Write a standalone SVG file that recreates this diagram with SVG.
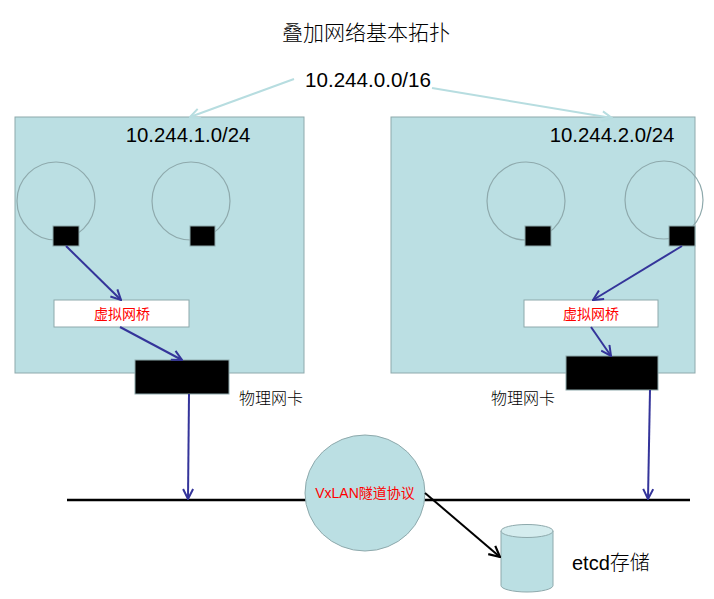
<svg xmlns="http://www.w3.org/2000/svg" width="714" height="599" viewBox="0 0 714 599">
<defs>
<style>
.host{fill:#bbdfe3;stroke:#8ea9ac;stroke-width:1}
.pod{fill:none;stroke:#8ea9ac;stroke-width:1.2}
.port{fill:#000;stroke:#8ea9ac;stroke-width:1}
.bridge{fill:#fff;stroke:#8ea9ac;stroke-width:1}
.lbl{font-family:"Liberation Sans","Noto Sans CJK SC",sans-serif;fill:#000}
.red{font-family:"Liberation Sans","Noto Sans CJK SC",sans-serif;fill:#ff0000;font-size:14px;text-anchor:middle}
.cjk{font-family:"Noto Sans CJK SC",sans-serif;fill:#000;font-weight:300}
.blue{stroke:#34349a;stroke-width:2;fill:none;marker-end:url(#ab)}
.pale{stroke:#b7dde0;stroke-width:2;fill:none;marker-end:url(#ap)}
</style>
<marker id="ab" viewBox="0 0 12 12" refX="11" refY="6" markerWidth="12" markerHeight="12" markerUnits="userSpaceOnUse" orient="auto">
<path d="M1,1 L11,6 L1,11" fill="none" stroke="#34349a" stroke-width="2"/>
</marker>
<marker id="ap" viewBox="0 0 12 12" refX="11" refY="6" markerWidth="12" markerHeight="12" markerUnits="userSpaceOnUse" orient="auto">
<path d="M1,1 L11,6 L1,11" fill="none" stroke="#b7dde0" stroke-width="2"/>
</marker>
<marker id="ak" viewBox="0 0 12 12" refX="11" refY="6" markerWidth="13" markerHeight="13" markerUnits="userSpaceOnUse" orient="auto">
<path d="M1,1 L11,6 L1,11" fill="none" stroke="#000" stroke-width="2"/>
</marker>
</defs>
<rect width="714" height="599" fill="#fff"/>
<text id="title" class="cjk" x="366" y="40" font-size="21" text-anchor="middle">叠加网络基本拓扑</text>
<g id="net">
<text class="lbl" x="368" y="87" font-size="20.6" text-anchor="middle">10.244.0.0/16</text>
</g>
<g id="host1">
<rect class="host" x="15" y="117" width="289" height="256"/>
<text class="lbl" x="188" y="142" font-size="20.4" text-anchor="middle">10.244.1.0/24</text>
<circle class="pod" cx="56" cy="201" r="39"/>
<circle class="pod" cx="191" cy="201" r="39"/>
<rect class="port" x="53" y="226" width="26" height="20"/>
<rect class="port" x="190" y="226" width="25" height="20"/>
</g>
<g id="bridge1">
<rect class="bridge" x="54" y="300" width="135" height="27"/>
<text class="red" x="122" y="319">虚拟网桥</text>
</g>
<g id="nic1">
<rect class="port" x="135" y="360" width="94" height="34"/>
<text class="cjk" x="271" y="404" font-size="16" text-anchor="middle">物理网卡</text>
</g>
<g id="host2">
<rect class="host" x="391" y="117" width="304" height="256"/>
<text class="lbl" x="612" y="142" font-size="20.4" text-anchor="middle">10.244.2.0/24</text>
<circle class="pod" cx="526" cy="201" r="39"/>
<circle class="pod" cx="664" cy="200" r="39"/>
<rect class="port" x="525" y="226" width="26" height="20"/>
<rect class="port" x="669" y="226" width="26" height="20"/>
</g>
<g id="bridge2">
<rect class="bridge" x="524" y="300" width="134" height="27"/>
<text class="red" x="591" y="319">虚拟网桥</text>
</g>
<g id="nic2">
<rect class="port" x="566" y="356" width="92" height="34"/>
<text class="cjk" x="523" y="404" font-size="16" text-anchor="middle">物理网卡</text>
</g>
<g id="wire">
<line x1="67" y1="500" x2="690" y2="500" stroke="#000" stroke-width="2.5"/>
</g>
<g id="vxlan">
<ellipse cx="365" cy="493" rx="60" ry="58" fill="#bbdfe3" stroke="#8ea9ac" stroke-width="1"/>
<text class="red" x="365" y="498">VxLAN隧道协议</text>
</g>
<g id="etcd">
<path d="M501,531 L501,585.5 A26,6.5 0 0 0 553,585.5 L553,531" fill="#bbdfe3" stroke="#8ea9ac" stroke-width="1"/>
<ellipse cx="527" cy="531" rx="26" ry="6.5" fill="#d4ecee" stroke="#8ea9ac" stroke-width="1"/>
<text class="lbl" x="572" y="570" font-size="20">etcd<tspan class="cjk">存储</tspan></text>
</g>
<g id="connectors">
<line class="pale" x1="294" y1="79" x2="190" y2="117"/>
<line class="pale" x1="432" y1="88" x2="612" y2="118"/>
<line class="blue" x1="66" y1="246" x2="121" y2="300"/>
<line class="blue" x1="120" y1="327" x2="182" y2="360"/>
<line class="blue" x1="189" y1="394" x2="188" y2="499"/>
<line class="blue" x1="682" y1="246" x2="593" y2="300"/>
<line class="blue" x1="591" y1="327" x2="611" y2="356"/>
<line class="blue" x1="650" y1="390" x2="648" y2="499"/>
<line x1="425" y1="493" x2="500" y2="557" stroke="#000" stroke-width="2" marker-end="url(#ak)"/>
</g>
</svg>
